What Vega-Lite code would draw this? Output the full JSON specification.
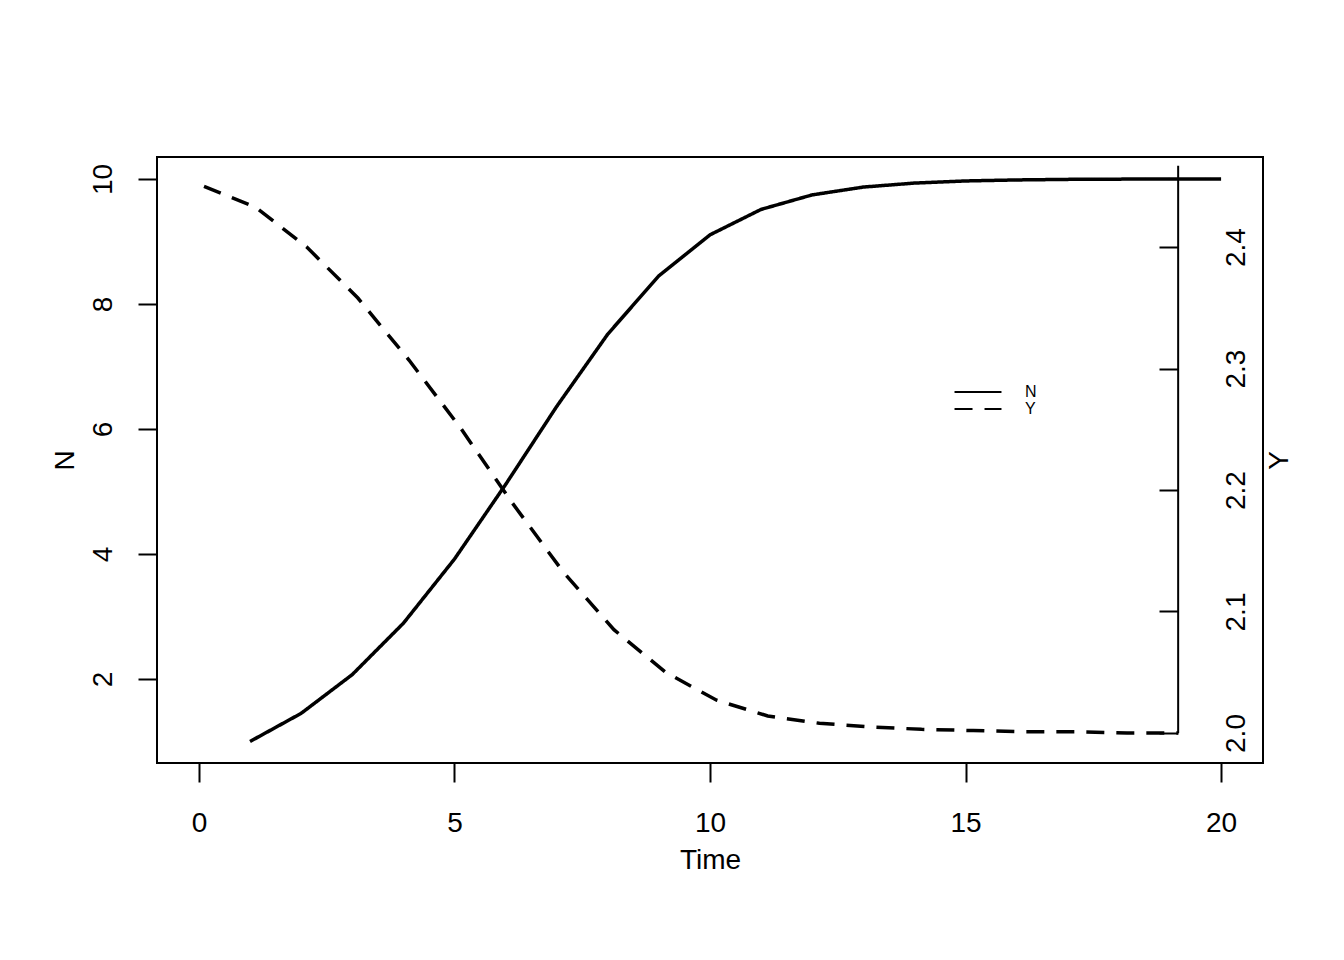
{
  "$schema": "https://vega.github.io/schema/vega-lite/v6.json",
  "autosize": "none",
  "width": 1106,
  "height": 606,
  "padding": {"left": 157, "top": 157, "right": 81, "bottom": 197},
  "background": "white",
  "config": {
    "view": {"stroke": "black", "strokeWidth": 2},
    "font": "Liberation Sans",
    "axis": {
      "domain": false,
      "grid": false,
      "ticks": true,
      "tickSize": 19,
      "tickWidth": 2,
      "tickColor": "black",
      "labelColor": "black",
      "labelFontSize": 28,
      "labelFont": "Liberation Sans",
      "titleFont": "Liberation Sans",
      "titleFontSize": 28,
      "titleFontWeight": "normal",
      "titleColor": "black"
    }
  },
  "layer": [
    {
      "data": {"values": [
        {"t": 1, "N": 1.0}, {"t": 2, "N": 1.45}, {"t": 3, "N": 2.07}, {"t": 4, "N": 2.891},
        {"t": 5, "N": 3.918}, {"t": 6, "N": 5.11}, {"t": 7, "N": 6.359}, {"t": 8, "N": 7.517},
        {"t": 9, "N": 8.45}, {"t": 10, "N": 9.105}, {"t": 11, "N": 9.512}, {"t": 12, "N": 9.744},
        {"t": 13, "N": 9.869}, {"t": 14, "N": 9.933}, {"t": 15, "N": 9.967}, {"t": 16, "N": 9.983},
        {"t": 17, "N": 9.992}, {"t": 18, "N": 9.996}, {"t": 19, "N": 9.998}, {"t": 20, "N": 9.999}
      ]},
      "mark": {"type": "line", "stroke": "black", "strokeWidth": 3.5},
      "encoding": {
        "x": {
          "field": "t", "type": "quantitative",
          "scale": {"domain": [-0.82, 20.82], "nice": false, "zero": false},
          "axis": {
            "title": "Time", "values": [0, 5, 10, 15, 20],
            "labelPadding": 27, "labelBaseline": "top",
            "titleX": 553, "titleY": 105, "titleAlign": "center", "titleBaseline": "alphabetic"
          }
        },
        "y": {
          "field": "N", "type": "quantitative",
          "scale": {"domain": [0.656, 10.35], "nice": false, "zero": false},
          "axis": {
            "orient": "left", "title": "N", "values": [2, 4, 6, 8, 10],
            "labelAngle": 270, "labelAlign": "center", "labelBaseline": "alphabetic", "labelPadding": 27,
            "titleAngle": 270, "titleX": -84, "titleY": 303, "titleAlign": "center", "titleBaseline": "alphabetic"
          }
        },
        "strokeDash": {
          "datum": "N", "type": "nominal",
          "scale": {"domain": ["N", "Y"], "range": [[1, 0], [18, 12]]},
          "legend": {
            "title": null, "orient": "none", "legendX": 812, "legendY": 226,
            "symbolType": "M-3,0H3", "symbolSize": 245, "symbolStrokeWidth": 2,
            "symbolStrokeColor": "black", "labelFontSize": 16, "labelColor": "black",
            "labelOffset": 38, "rowPadding": 0
          }
        }
      }
    },
    {
      "layer": [
        {
          "data": {"values": [
            {"t": 0.1, "Y": 2.45}, {"t": 1.1, "Y": 2.433}, {"t": 2.11, "Y": 2.4}, {"t": 3.11, "Y": 2.358},
            {"t": 4.11, "Y": 2.307}, {"t": 5.12, "Y": 2.251}, {"t": 6.12, "Y": 2.19}, {"t": 7.12, "Y": 2.133},
            {"t": 8.12, "Y": 2.085}, {"t": 9.13, "Y": 2.05}, {"t": 10.13, "Y": 2.027}, {"t": 11.13, "Y": 2.014},
            {"t": 12.14, "Y": 2.008}, {"t": 13.14, "Y": 2.005}, {"t": 14.14, "Y": 2.003}, {"t": 15.15, "Y": 2.002},
            {"t": 16.15, "Y": 2.001}, {"t": 17.15, "Y": 2.001}, {"t": 18.16, "Y": 2.0}, {"t": 19.16, "Y": 2.0}
          ]},
          "mark": {"type": "line", "stroke": "black", "strokeWidth": 3.5},
          "encoding": {
            "x": {"field": "t", "type": "quantitative"},
            "y": {
              "field": "Y", "type": "quantitative",
              "scale": {"domain": [1.9753, 2.4741], "nice": false, "zero": false},
              "axis": {
                "orient": "right", "title": "Y", "values": [2.0, 2.1, 2.2, 2.3, 2.4], "format": ".1f",
                "offset": -85, "tickSize": -19,
                "labelAngle": 270, "labelAlign": "center", "labelBaseline": "alphabetic", "labelPadding": 85,
                "titleAngle": 270, "titleX": 109, "titleY": 303, "titleAlign": "center", "titleBaseline": "alphabetic"
              }
            },
            "strokeDash": {"datum": "Y", "type": "nominal"}
          }
        },
        {
          "data": {"values": [{"t": 19.16, "lo": 2.0, "hi": 2.467}]},
          "mark": {"type": "rule", "stroke": "black", "strokeWidth": 2},
          "encoding": {
            "x": {"field": "t", "type": "quantitative"},
            "y": {"field": "lo", "type": "quantitative"},
            "y2": {"field": "hi"}
          }
        }
      ]
    }
  ],
  "resolve": {"scale": {"y": "independent"}}
}
